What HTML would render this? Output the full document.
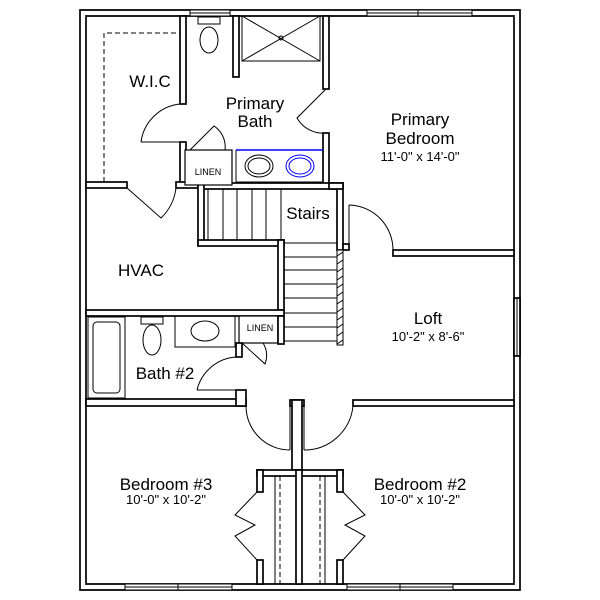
<!DOCTYPE html>
<html><head><meta charset="utf-8"><style>
html,body{margin:0;padding:0;background:#fff;}
svg{display:block;}
text{font-family:"Liberation Sans",sans-serif;fill:#000;text-anchor:middle;}
</style></head><body>
<svg width="600" height="600" viewBox="0 0 600 600" xmlns="http://www.w3.org/2000/svg">
<rect width="600" height="600" fill="#fff"/>
<g stroke="#000" stroke-width="1.7" fill="#fff">
<path d="M80,10H520V590H80Z M86,16V584H514V16Z" fill-rule="evenodd"/>
<rect x="180" y="16" width="6" height="88"/>
<rect x="180" y="142" width="6" height="42"/>
<rect x="86" y="182" width="41" height="6"/>
<rect x="176" y="182" width="24" height="6"/>
<rect x="233" y="16" width="6" height="61"/>
<rect x="323" y="16" width="6" height="73"/>
<rect x="323" y="133" width="6" height="52"/>
<rect x="198" y="183" width="137" height="6"/>
<rect x="198" y="183" width="6" height="62"/>
<rect x="198" y="240" width="86" height="6"/>
<rect x="278" y="240" width="6" height="70"/>
<rect x="337" y="183" width="6" height="67"/>
<rect x="329" y="183" width="14" height="6"/>
<rect x="393" y="250" width="121" height="6"/>
<rect x="343" y="244" width="6" height="6"/>
<rect x="86" y="310" width="198" height="6"/>
<rect x="185" y="150" width="47" height="35" stroke-width="1.2"/>
<rect x="239" y="316" width="39" height="27" stroke-width="1.2"/>
<rect x="236" y="343" width="6" height="14"/>
<rect x="278" y="316" width="6" height="28"/>
<rect x="86" y="399" width="160" height="7"/>
<rect x="236" y="390" width="10" height="16"/>
<rect x="353" y="400" width="161" height="6"/>
<rect x="290" y="400" width="14" height="6"/>
<rect x="292" y="400" width="10" height="70"/>
<rect x="257" y="470" width="86" height="6"/>
<rect x="257" y="470" width="6" height="22"/>
<rect x="337" y="470" width="6" height="22"/>
<rect x="257" y="560" width="6" height="24"/>
<rect x="337" y="560" width="6" height="24"/>
<rect x="296" y="470" width="6" height="114"/>
<rect x="514" y="298" width="6" height="58"/>
</g>
<g stroke="#000" stroke-width="1" fill="none">
<rect x="190" y="10" width="40" height="6" fill="#fff"/>
<line x1="190" y1="13" x2="230" y2="13"/>
<rect x="367" y="10" width="105" height="6" fill="#fff"/>
<line x1="367" y1="13" x2="472" y2="13"/><line x1="418" y1="10" x2="418" y2="16"/>
<rect x="125" y="584" width="107" height="6" fill="#fff"/>
<line x1="125" y1="587" x2="232" y2="587"/><line x1="178" y1="584" x2="178" y2="590"/>
<rect x="347" y="584" width="106" height="6" fill="#fff"/>
<line x1="347" y1="587" x2="453" y2="587"/><line x1="400" y1="584" x2="400" y2="590"/>
<line x1="517" y1="298" x2="517" y2="356"/>
<path d="M104,182V33H180" stroke-dasharray="5,3"/>
<rect x="198" y="17" width="22" height="7"/>
<ellipse cx="209" cy="40" rx="9" ry="13"/>
<rect x="242" y="16" width="78" height="45"/>
<path d="M242,16L320,61M320,16L242,61"/>
<circle cx="281" cy="38" r="2"/>
<line x1="236" y1="150" x2="323" y2="150" stroke="#00f" stroke-width="1.5"/>
<line x1="236" y1="182" x2="323" y2="182"/>
<line x1="236" y1="150" x2="236" y2="182"/>
<ellipse cx="259" cy="166" rx="14" ry="11"/>
<ellipse cx="259" cy="166" rx="11" ry="8"/>
<ellipse cx="300" cy="166" rx="14" ry="11" stroke="#00f"/>
<ellipse cx="300" cy="166" rx="11" ry="8" stroke="#00f"/>
<path d="M141,142L186,142M141,142A44,44 0 0 1 180,104"/>
<path d="M190,150L214,126A25,25 0 0 1 225,150"/>
<path d="M326,89L297,118A30,30 0 0 0 326,133"/>
<path d="M127,188L161,218A50,50 0 0 0 176,188"/>
<path d="M349,205L349,250M349,205A45,45 0 0 1 393,250"/>
<path d="M197,390L236,390M197,390A43,43 0 0 1 236,357"/>
<path d="M242,343L265,364A23,23 0 0 0 263,343"/>
<path d="M290,406L290,450M246,406A44,44 0 0 0 290,450"/>
<path d="M304,406L304,450M353,406A49,49 0 0 1 304,450"/>
<path d="M208,189V240M223,189V240M237,189V240M252,189V240M266,189V240M281,189V240"/>
<path d="M284,243H337M284,257H337M284,270H337M284,284H337M284,298H337M284,313H337M284,327H337M284,341H337"/>
<rect x="337" y="250" width="6" height="95" fill="#fff"/>
<path d="M337,256L343,252M337,264L343,260M337,272L343,268M337,280L343,276M337,288L343,284M337,296L343,292M337,304L343,300M337,312L343,308M337,320L343,316M337,328L343,324M337,336L343,332M337,344L343,340"/>
<rect x="88" y="317" width="37" height="81"/>
<rect x="93" y="322" width="27" height="71" rx="4"/>
<rect x="141" y="317" width="22" height="7"/>
<ellipse cx="152" cy="340" rx="9" ry="15"/>
<rect x="175" y="316" width="60" height="31"/>
<ellipse cx="205" cy="331" rx="14" ry="10"/>
<line x1="275" y1="476" x2="275" y2="584"/><line x1="325" y1="476" x2="325" y2="584"/>
<line x1="280" y1="476" x2="280" y2="584" stroke-dasharray="5,3"/>
<line x1="320" y1="476" x2="320" y2="584" stroke-dasharray="5,3"/>
<path d="M257,492L235,515L255,525L235,536L257,560"/>
<path d="M343,492L365,515L345,525L365,536L343,560"/>
</g>
<g font-size="17">
<text x="150" y="87">W.I.C</text>
<text x="255" y="109">Primary</text>
<text x="255" y="127">Bath</text>
<text x="420" y="125">Primary</text>
<text x="420" y="144">Bedroom</text>
<text x="308" y="219">Stairs</text>
<text x="141" y="276">HVAC</text>
<text x="428" y="324">Loft</text>
<text x="165" y="379">Bath #2</text>
<text x="166" y="490">Bedroom #3</text>
<text x="420" y="490">Bedroom #2</text>
</g>
<g font-size="13">
<text x="420" y="161">11'-0" x 14'-0"</text>
<text x="428" y="341">10'-2" x 8'-6"</text>
<text x="166" y="504">10'-0" x 10'-2"</text>
<text x="420" y="504">10'-0" x 10'-2"</text>
</g>
<g font-size="9">
<text x="208" y="175">LINEN</text>
<text x="260" y="331">LINEN</text>
</g>
</svg>
</body></html>
